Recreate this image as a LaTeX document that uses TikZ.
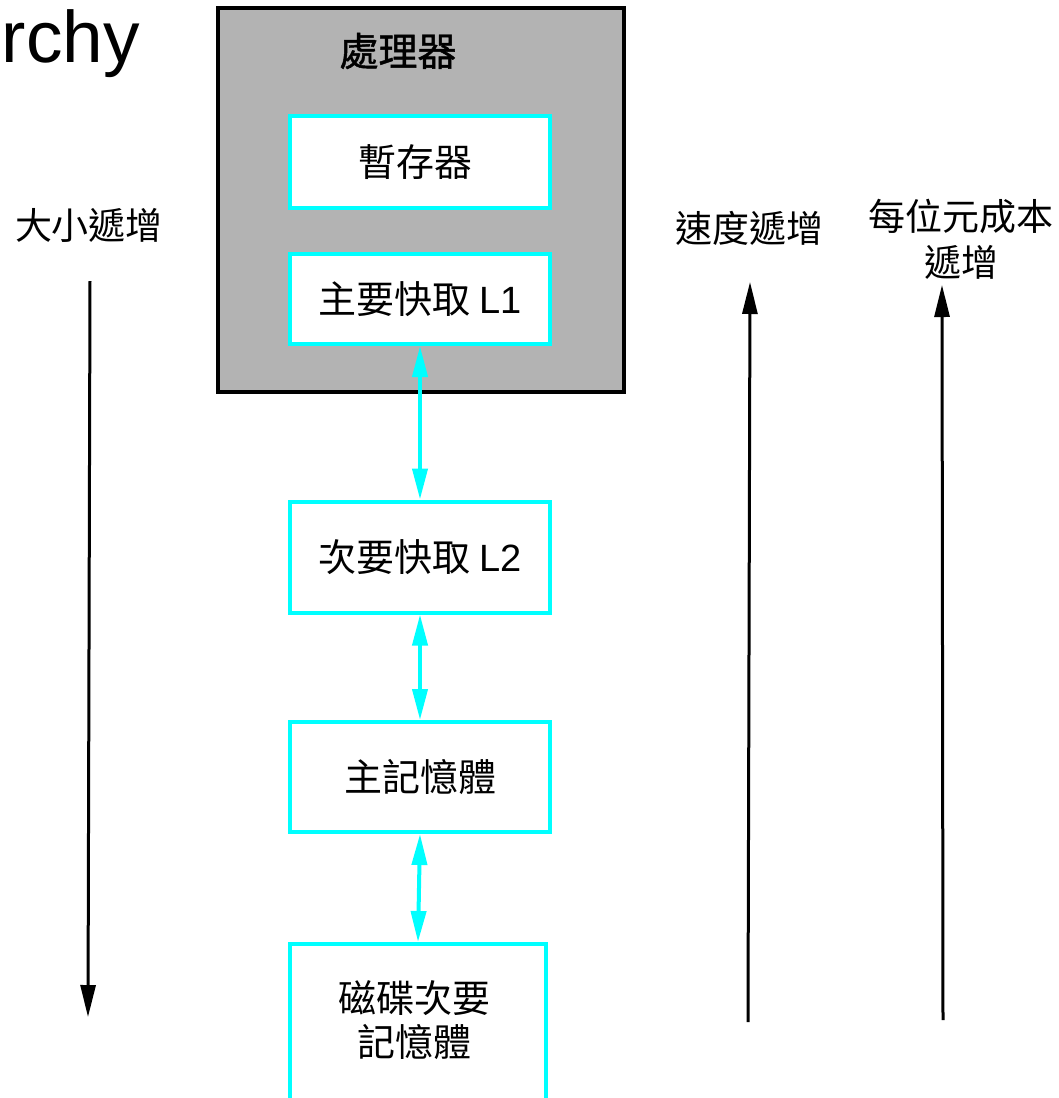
\documentclass[tikz,border=0pt]{standalone}
\usepackage{fontspec}
\usetikzlibrary{arrows.meta}
\newfontfamily\cjk{Noto Sans CJK TC}
\newfontfamily\cjkb[FakeBold=1.2]{Noto Sans CJK TC}
\newfontfamily\lat{Liberation Sans}
\definecolor{procgray}{HTML}{B3B3B3}
\definecolor{cyanline}{HTML}{00FFFF}
\tikzset{
  cbox/.style={draw=cyanline, fill=white, line width=4pt, inner sep=0pt, minimum width=260pt, font=\cjk\fontsize{38}{46}\selectfont},
  lbl/.style={inner sep=0pt, align=center, font=\cjk\fontsize{37}{45}\selectfont},
  blkarrow/.style={line width=3pt, -{Triangle[length=32pt,width=15pt]}},
  cyarrow/.style={draw=cyanline, line width=4pt, {Triangle[length=31pt,width=15pt]}-{Triangle[length=31pt,width=15pt]}}
}
\begin{document}
\begin{tikzpicture}[x=1pt,y=-1pt]
\useasboundingbox (0,0) rectangle (1059,1098);
\clip (0,0) rectangle (1059,1098);
% cut-off title
\node[anchor=base east, inner sep=0pt, font=\lat\fontsize{73}{84}\selectfont] (title) at (140,62) {rchy};
% processor
\node[draw=black, fill=procgray, line width=3.5pt, minimum width=406pt, minimum height=384pt, inner sep=0pt] (proc) at (421,200) {};
\node[inner sep=0pt, font=\cjkb\fontsize{39}{46}\selectfont] (proct) at (398,51) {處理器};
\node[cbox, minimum height=92pt] (reg) at (420,162) {\hspace*{-10pt}暫存器};
\node[cbox, minimum height=90pt] (l1) at (420,299) {主要快取 {\lat L1}};
\node[cbox, minimum height=111pt] (l2) at (420,557) {次要快取 {\lat L2}};
\node[cbox, minimum height=110pt] (mem) at (420,777) {主記憶體};
\node[cbox, minimum width=256pt, minimum height=240pt] (disk) at (418,1064) {};
\node[lbl, font=\cjk\fontsize{38}{44}\selectfont] (diskt) at (414,1020) {磁碟次要\\記憶體};
% cyan double arrows
\draw[cyarrow] (l1.south) -- (l2.north);
\draw[cyarrow] (l2.south) -- (mem.north);
\draw[cyarrow] (mem.south) -- (disk.north);
% side labels and arrows
\node[lbl] (size) at (89,225) {大小遞增};
\node[lbl] (speed) at (749,228) {速度遞增};
\node[lbl] (cost1) at (961,216) {每位元成本};
\node[lbl] (cost2) at (961,262) {遞增};
\coordinate (a1s) at (90,281);
\coordinate (a1e) at (88,1017);
\coordinate (a2s) at (748,1022);
\coordinate (a2e) at (750,282);
\coordinate (a3s) at (943,1020);
\coordinate (a3e) at (942,285);
\draw[blkarrow] (a1s) -- (a1e);
\draw[blkarrow] (a2s) -- (a2e);
\draw[blkarrow] (a3s) -- (a3e);
\end{tikzpicture}
\end{document}
